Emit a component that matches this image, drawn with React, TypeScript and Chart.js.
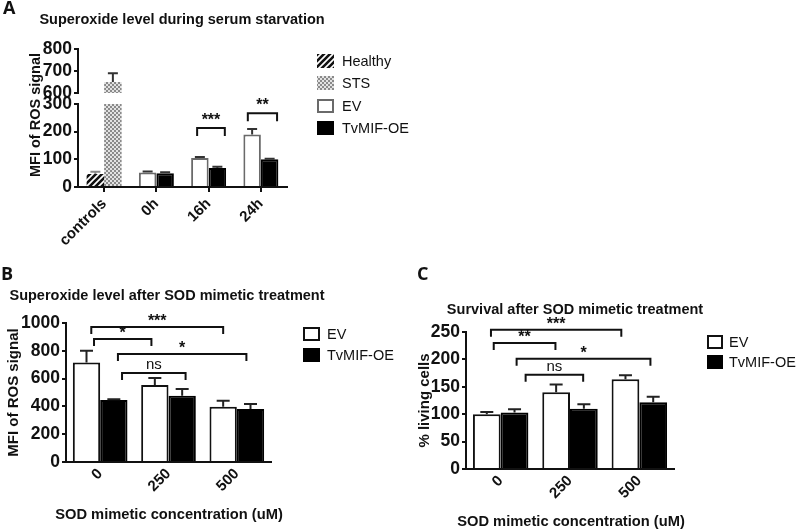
import React, { useEffect, useRef } from "react";
import { Chart, registerables } from "chart.js";

Chart.register(...registerables);

const SANS = "'Liberation Sans', Arial, sans-serif";
const LETTER = "'Open Sans', 'Liberation Sans', sans-serif";
const INK = "#111";

// ---------------- Panel A: Superoxide level during serum starvation ----------------
const aCategories = ["controls", "0h", "16h", "24h"];
const aLegend = ["Healthy", "STS", "EV", "TvMIF-OE"];
const aHealthy = 47;
const aHealthyErr = 8;
const aSts = 650;
const aStsErr = 40;
const aEv = [52, 105, 190];
const aEvErr = [4, 3, 20];
const aTvmif = [50, 69, 100];
const aTvmifErr = [3, 4, 2];
const aUpperRange = [600, 800];
const aLowerRange = [0, 300];
const aTickStep = 100;
const aSigFrom = [1.78, 2.75];
const aSigTo = [2.31, 3.31];
const aSigY = [213, 267];
const aSigLabel = ["***", "**"];

// ---------------- Panel B: Superoxide level after SOD mimetic treatment ----------------
const bCategories = ["0", "250", "500"];
const bEv = [715, 554, 398];
const bEvErr = [85, 50, 43];
const bTvmif = [446, 477, 381];
const bTvmifErr = [5, 48, 36];
const bRange = [0, 1000];
const bTickStep = 200;
const bSigFrom = [-0.13, -0.09, 0.26, 0.32];
const bSigTo = [1.8, 0.75, 2.14, 1.25];
const bSigY = [971, 885, 777, 640];
const bSigLabel = ["***", "*", "*", "ns"];

// ---------------- Panel C: Survival after SOD mimetic treatment ----------------
const cCategories = ["0", "250", "500"];
const cEv = [100, 140, 164];
const cEvErr = [4, 14, 7];
const cTvmif = [103, 110, 122];
const cTvmifErr = [6, 8, 10];
const cRange = [0, 250];
const cTickStep = 50;
const cSigFrom = [-0.14, -0.1, 0.23, 0.36];
const cSigTo = [1.74, 0.79, 2.16, 1.19];
const cSigY = [254, 230, 201, 172];
const cSigLabel = ["***", "**", "*", "ns"];

const groupLegend = ["EV", "TvMIF-OE"];
const concentrationTitle = "SOD mimetic concentration (uM)";

function makeHatch(): CanvasPattern | string {
  const c = document.createElement("canvas");
  c.width = 6;
  c.height = 6;
  const g = c.getContext("2d");
  if (!g) return "#444";
  g.fillStyle = "#fff";
  g.fillRect(0, 0, 6, 6);
  g.strokeStyle = INK;
  g.lineWidth = 2.6;
  g.beginPath();
  g.moveTo(-1, 7);
  g.lineTo(7, -1);
  g.moveTo(-4, 4);
  g.lineTo(4, -4);
  g.moveTo(2, 10);
  g.lineTo(10, 2);
  g.stroke();
  return g.createPattern(c, "repeat") || "#444";
}

function makeChecker(): CanvasPattern | string {
  const c = document.createElement("canvas");
  c.width = 4;
  c.height = 4;
  const g = c.getContext("2d");
  if (!g) return "#bbb";
  g.fillStyle = "#e2e2e2";
  g.fillRect(0, 0, 4, 4);
  g.fillStyle = "#8a8a8a";
  g.fillRect(0, 0, 2, 2);
  g.fillRect(2, 2, 2, 2);
  return g.createPattern(c, "repeat") || "#bbb";
}

const errorBarPlugin = {
  id: "errorBars",
  afterDatasetsDraw(chart: any, _args: any, opts: any) {
    if (!opts || !opts.cap) return;
    const { ctx, chartArea } = chart;
    ctx.save();
    ctx.beginPath();
    ctx.rect(chartArea.left - 20, chartArea.top - 1, chartArea.right - chartArea.left + 40, chartArea.bottom - chartArea.top + 1);
    ctx.clip();
    chart.data.datasets.forEach((ds: any, di: number) => {
      const errs = ds.errors;
      if (!errs) return;
      const meta = chart.getDatasetMeta(di);
      const yScale = chart.scales[meta.yAxisID];
      meta.data.forEach((el: any, i: number) => {
        const v = ds.data[i];
        const e = errs[i];
        if (v == null || e == null) return;
        const y0 = yScale.getPixelForValue(v);
        const y1 = yScale.getPixelForValue(v + e);
        ctx.strokeStyle = Array.isArray(ds.errorColor) ? ds.errorColor[i] : ds.errorColor || INK;
        ctx.lineWidth = opts.lineWidth;
        ctx.beginPath();
        ctx.moveTo(el.x, y0);
        ctx.lineTo(el.x, y1);
        ctx.moveTo(el.x - opts.cap / 2, y1);
        ctx.lineTo(el.x + opts.cap / 2, y1);
        ctx.stroke();
      });
    });
    ctx.restore();
  },
};

const bracketPlugin = {
  id: "brackets",
  afterDraw(chart: any, _args: any, opts: any) {
    if (!opts || !opts.from) return;
    const { ctx } = chart;
    const xs = chart.scales.x;
    const ys = chart.scales.y;
    const p0 = xs.getPixelForValue(0);
    const step = xs.getPixelForValue(1) - p0;
    ctx.save();
    ctx.strokeStyle = INK;
    ctx.fillStyle = INK;
    ctx.lineWidth = 2;
    ctx.textAlign = "center";
    ctx.textBaseline = "alphabetic";
    opts.from.forEach((f: number, i: number) => {
      const x1 = p0 + f * step;
      const x2 = p0 + opts.to[i] * step;
      const yy = ys.getPixelForValue(opts.y[i]);
      ctx.beginPath();
      ctx.moveTo(x1, yy + opts.drop);
      ctx.lineTo(x1, yy);
      ctx.lineTo(x2, yy);
      ctx.lineTo(x2, yy + opts.drop);
      ctx.stroke();
      const label = opts.labels[i];
      const star = label.indexOf("*") >= 0;
      ctx.font = star ? opts.starFont : opts.textFont;
      ctx.fillText(label, (x1 + x2) / 2, yy - (star ? opts.starLift : opts.textLift));
    });
    ctx.restore();
  },
};

const decorPlugin = {
  id: "decor",
  afterDraw(chart: any, _args: any, opts: any) {
    if (!opts) return;
    const { ctx } = chart;
    (opts.texts || []).forEach((t: any) => {
      ctx.save();
      ctx.font = t.font;
      ctx.fillStyle = INK;
      ctx.textAlign = t.align || "left";
      ctx.textBaseline = "middle";
      ctx.translate(t.x, t.y);
      if (t.rotate) ctx.rotate(t.rotate);
      ctx.fillText(t.text, 0, 0);
      ctx.restore();
    });
    const lg = opts.legend;
    if (lg) {
      lg.labels.forEach((label: string, i: number) => {
        const y = lg.rows[i];
        ctx.save();
        ctx.fillStyle = lg.fills[i];
        ctx.fillRect(lg.x, y - lg.h / 2, lg.w, lg.h);
        if (lg.strokes[i]) {
          ctx.strokeStyle = lg.strokes[i];
          ctx.lineWidth = 2;
          ctx.strokeRect(lg.x + 1, y - lg.h / 2 + 1, lg.w - 2, lg.h - 2);
        }
        ctx.fillStyle = INK;
        ctx.font = lg.font;
        ctx.textAlign = "left";
        ctx.textBaseline = "middle";
        ctx.fillText(label, lg.x + lg.w + lg.gap, y + 1);
        ctx.restore();
      });
    }
  },
};

function yAxis(range: number[], step: number, width: number, title?: any) {
  return {
    min: range[0],
    max: range[1],
    afterFit: (s: any) => {
      s.width = width;
    },
    ticks: {
      stepSize: step,
      autoSkip: false,
      color: INK,
      padding: 2,
      font: { family: SANS, size: 17.5, weight: "bold" },
      callback: (v: any) => String(v),
    },
    grid: { display: true, drawOnChartArea: false, drawTicks: true, tickLength: 4, color: INK, lineWidth: 2 },
    border: { display: true, color: INK, width: 2 },
    title: title || { display: false },
  };
}

function xAxis(height: number, display: boolean, tickMarks: boolean) {
  return {
    display,
    afterFit: (s: any) => {
      s.height = height;
    },
    ticks: {
      color: INK,
      minRotation: 45,
      maxRotation: 45,
      autoSkip: false,
      padding: 3,
      font: { family: SANS, size: 15, weight: "bold" },
    },
    grid: { display: tickMarks, drawOnChartArea: false, drawTicks: tickMarks, tickLength: 5, offset: false, color: INK, lineWidth: 2 },
    border: { display: true, color: INK, width: 2 },
    title: { display: false },
  };
}

function baseOptions(padding: any, scales: any, plugins: any, catPct: number) {
  return {
    responsive: false,
    animation: false as const,
    events: [],
    layout: { padding, autoPadding: false },
    datasets: { bar: { categoryPercentage: catPct, barPercentage: 1 } },
    scales,
    plugins: {
      legend: { display: false },
      title: { display: false },
      tooltip: { enabled: false },
      ...plugins,
    },
  };
}

export default function App() {
  const aLowRef = useRef<HTMLCanvasElement>(null);
  const aTopRef = useRef<HTMLCanvasElement>(null);
  const bRef = useRef<HTMLCanvasElement>(null);
  const cRef = useRef<HTMLCanvasElement>(null);

  useEffect(() => {
    Chart.defaults.font.family = SANS;
    const hatch = makeHatch();
    const checker = makeChecker();
    const charts: Chart[] = [];

    const aDatasets = () => [
      {
        label: "Healthy / EV",
        data: [aHealthy, ...aEv],
        errors: [aHealthyErr, ...aEvErr],
        errorColor: ["#8a8a8a", "#333", "#333", "#333"],
        backgroundColor: [hatch, "#fff", "#fff", "#fff"],
        borderColor: ["#333", "#6a6a6a", "#6a6a6a", "#6a6a6a"],
        borderWidth: [0, 2, 2, 2],
        clip: 0,
      },
      {
        label: "STS / TvMIF-OE",
        data: [aSts, ...aTvmif],
        errors: [aStsErr, ...aTvmifErr],
        errorColor: ["#333", "#333", "#333", "#333"],
        backgroundColor: [checker, "#000", "#000", "#000"],
        borderColor: ["#999", "#000", "#000", "#000"],
        borderWidth: [0, 2, 2, 2],
        clip: 0,
      },
    ];

    const titleFont = `bold 14.5px ${SANS}`;
    const letterFont = `bold 18px ${LETTER}`;
    const legendFont = `14.5px ${SANS}`;
    const starFont = `bold 16px ${SANS}`;
    const nsFont = `15px ${SANS}`;
    const xTitleFont = `bold 14.7px ${SANS}`;

    // Panel A, lower segment (0-300)
    if (aLowRef.current) {
      charts.push(
        new Chart(aLowRef.current, {
          type: "bar",
          data: { labels: aCategories, datasets: aDatasets() as any },
          options: baseOptions(
            { left: 0, right: 513, top: 104, bottom: 284 },
            { x: xAxis(60, true, true), y: yAxis(aLowerRange, aTickStep, 78) },
            {
              errorBars: { cap: 10, lineWidth: 2 },
              brackets: {
                from: aSigFrom, to: aSigTo, y: aSigY, labels: aSigLabel,
                drop: 8, starLift: 3, textLift: 4, starFont, textFont: nsFont,
              },
              decor: {
                texts: [
                  { text: "A", x: 3, y: 9, font: letterFont },
                  { text: "Superoxide level during serum starvation", x: 182, y: 20, font: titleFont, align: "center" },
                  { text: "MFI of ROS signal", x: 36, y: 115, font: `bold 14.5px ${SANS}`, align: "center", rotate: -Math.PI / 2 },
                ],
                legend: {
                  labels: aLegend,
                  rows: [61, 83, 106, 128],
                  fills: [hatch, checker, "#fff", "#000"],
                  strokes: [null, null, "#6a6a6a", null],
                  x: 317, w: 17, h: 14, gap: 8, font: legendFont,
                },
              },
            },
            0.67
          ) as any,
          plugins: [errorBarPlugin, bracketPlugin, decorPlugin],
        })
      );
    }

    // Panel A, upper segment (600-800)
    if (aTopRef.current) {
      charts.push(
        new Chart(aTopRef.current, {
          type: "bar",
          data: { labels: aCategories, datasets: aDatasets() as any },
          options: baseOptions(
            { left: 0, right: 513, top: 49, bottom: 438 },
            { x: xAxis(0, false, false), y: yAxis(aUpperRange, aTickStep, 78) },
            { errorBars: { cap: 10, lineWidth: 2 } },
            0.67
          ) as any,
          plugins: [errorBarPlugin],
        })
      );
    }

    const groupDatasets = (ev: number[], evErr: number[], tv: number[], tvErr: number[]) => [
      {
        label: "EV",
        data: ev,
        errors: evErr,
        errorColor: "#222",
        backgroundColor: "#fff",
        borderColor: INK,
        borderWidth: 2,
      },
      {
        label: "TvMIF-OE",
        data: tv,
        errors: tvErr,
        errorColor: "#222",
        backgroundColor: "#000",
        borderColor: "#000",
        borderWidth: 2,
      },
    ];

    const yTitle = (txt: string, pad: number) => ({
      display: true,
      text: txt,
      color: INK,
      font: { family: SANS, size: 15, weight: "bold" },
      padding: { top: pad, bottom: 0 },
    });

    // Panel B
    if (bRef.current) {
      charts.push(
        new Chart(bRef.current, {
          type: "bar",
          data: { labels: bCategories, datasets: groupDatasets(bEv, bEvErr, bTvmif, bTvmifErr) as any },
          options: baseOptions(
            { left: 0, right: 529, top: 323, bottom: 7 },
            {
              x: xAxis(62, true, false),
              y: yAxis(bRange, bTickStep, 66, yTitle("MFI of ROS signal", 5)),
            },
            {
              errorBars: { cap: 13, lineWidth: 2 },
              brackets: {
                from: bSigFrom, to: bSigTo, y: bSigY, labels: bSigLabel,
                drop: 7, starLift: 1, textLift: 4, starFont, textFont: nsFont,
              },
              decor: {
                texts: [
                  { text: "B", x: 1, y: 275, font: letterFont },
                  { text: "Superoxide level after SOD mimetic treatment", x: 167, y: 296, font: titleFont, align: "center" },
                  { text: concentrationTitle, x: 169, y: 515, font: xTitleFont, align: "center" },
                ],
                legend: {
                  labels: groupLegend,
                  rows: [334, 355],
                  fills: ["#fff", "#000"],
                  strokes: [INK, null],
                  x: 303, w: 17, h: 14, gap: 7, font: legendFont,
                },
              },
            },
            0.8
          ) as any,
          plugins: [errorBarPlugin, bracketPlugin, decorPlugin],
        })
      );
    }

    // Panel C
    if (cRef.current) {
      charts.push(
        new Chart(cRef.current, {
          type: "bar",
          data: { labels: cCategories, datasets: groupDatasets(cEv, cEvErr, cTvmif, cTvmifErr) as any },
          options: baseOptions(
            { left: 400, right: 126, top: 332, bottom: 0 },
            {
              x: xAxis(62, true, false),
              y: yAxis(cRange, cTickStep, 66, yTitle("% living cells", 16)),
            },
            {
              errorBars: { cap: 13, lineWidth: 2 },
              brackets: {
                from: cSigFrom, to: cSigTo, y: cSigY, labels: cSigLabel,
                drop: 7, starLift: 1, textLift: 4, starFont, textFont: nsFont,
              },
              decor: {
                texts: [
                  { text: "C", x: 417, y: 275, font: letterFont },
                  { text: "Survival after SOD mimetic treatment", x: 575, y: 310, font: titleFont, align: "center" },
                  { text: concentrationTitle, x: 571, y: 522, font: xTitleFont, align: "center" },
                ],
                legend: {
                  labels: groupLegend,
                  rows: [342, 362],
                  fills: ["#fff", "#000"],
                  strokes: [INK, null],
                  x: 707, w: 16, h: 14, gap: 6, font: legendFont,
                },
              },
            },
            0.8
          ) as any,
          plugins: [errorBarPlugin, bracketPlugin, decorPlugin],
        })
      );
    }

    return () => {
      charts.forEach((c) => c.destroy());
    };
  }, []);

  const canvasStyle: React.CSSProperties = { position: "absolute", left: 0, top: 0, width: 800, height: 531 };
  return (
    <div style={{ position: "fixed", left: 0, top: 0, width: 800, height: 531, background: "#fff", overflow: "hidden" }}>
      <canvas ref={aLowRef} width={800} height={531} style={canvasStyle} />
      <canvas ref={aTopRef} width={800} height={531} style={canvasStyle} />
      <canvas ref={bRef} width={800} height={531} style={canvasStyle} />
      <canvas ref={cRef} width={800} height={531} style={canvasStyle} />
    </div>
  );
}
